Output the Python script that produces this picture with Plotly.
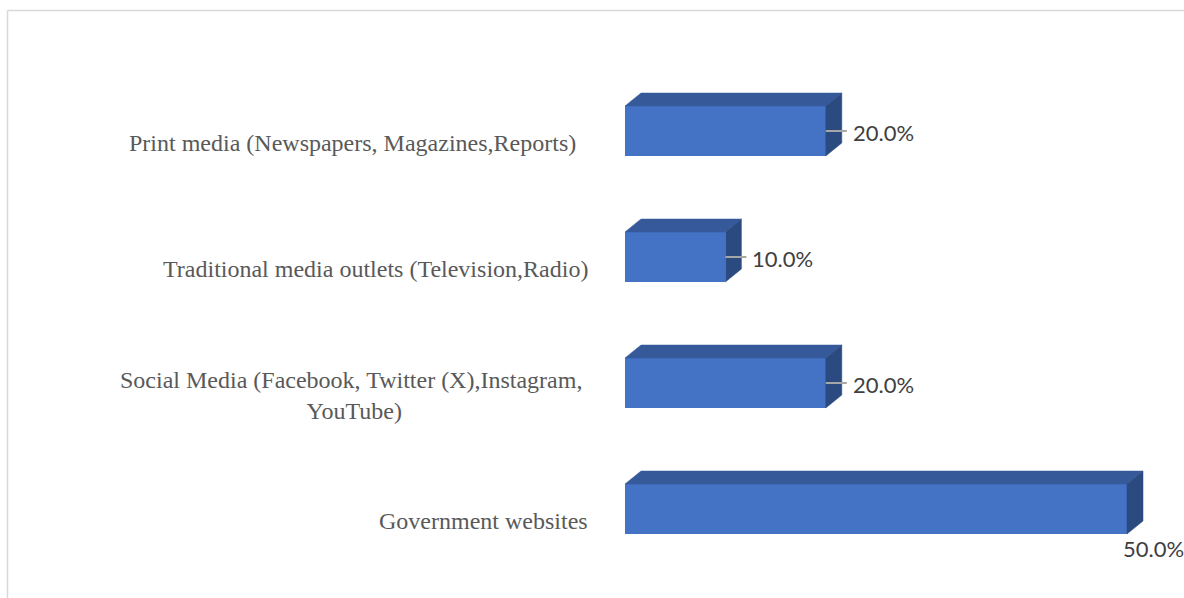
import plotly.graph_objects as go

categories = [
    "Government websites",
    "Social Media (Facebook, Twitter (X),Instagram,&nbsp;<br>YouTube)",
    "Traditional media outlets (Television,Radio)",
    "Print media (Newspapers, Magazines,Reports)&nbsp;&nbsp;",
]
values = [50.0, 20.0, 10.0, 20.0]
value_labels = ["50.0%", "20.0%", "10.0%", "20.0%"]

W, H = 1184, 598
PX_PER_X = 10.04      # pixels per percentage point
PX_PER_Y = 126.0      # pixels per category
X0_PX = 625           # pixel of value 0
TOP_CAT_PX = 131      # pixel of top category centre

n = len(categories)
ymax = (n - 1) + TOP_CAT_PX / PX_PER_Y
ymin = ymax - H / PX_PER_Y
xmin = -X0_PX / PX_PER_X
xmax = xmin + W / PX_PER_X

bar_h = 50 / PX_PER_Y
dx = 16 / PX_PER_X
dy = 13 / PX_PER_Y

FRONT = "#4472C4"
TOP = "#36599A"
SIDE = "#2B4A80"

fig = go.Figure()
ypos = list(range(n))

# top and side faces
for i, v in enumerate(values):
    y = ypos[i]
    yt = y + bar_h / 2
    yb = y - bar_h / 2
    fig.add_trace(go.Scatter(
        x=[0, v, v + dx, dx, 0], y=[yt, yt, yt + dy, yt + dy, yt],
        fill="toself", fillcolor=TOP, mode="lines",
        line=dict(color=TOP, width=0.5), hoverinfo="skip", showlegend=False))
    fig.add_trace(go.Scatter(
        x=[v, v + dx, v + dx, v, v], y=[yb, yb + dy, yt + dy, yt, yb],
        fill="toself", fillcolor=SIDE, mode="lines",
        line=dict(color=SIDE, width=0.5), hoverinfo="skip", showlegend=False))

# front faces
fig.add_trace(go.Bar(
    x=values, y=ypos, orientation="h", width=bar_h, base=0,
    marker=dict(color=FRONT, line=dict(width=0)),
    hoverinfo="skip", showlegend=False))

vmax = max(values)
annotations = []
for i, v in enumerate(values):
    y = ypos[i]
    annotations.append(dict(
        x=0, y=y, xref="x", yref="y", text=categories[i],
        xanchor="right", yanchor="middle", align="center",
        xshift=-35, yshift=-12, showarrow=False,
        font=dict(family="Liberation Serif", size=24, color="#595959")))
    if v == vmax:
        annotations.append(dict(
            x=v, y=y, xref="x", yref="y", text=value_labels[i],
            xanchor="left", yanchor="middle", xshift=-6, yshift=-39,
            showarrow=False,
            font=dict(family="Lato", size=22, color="#404040")))
    else:
        fig.add_trace(go.Scatter(
            x=[v, v + 21 / PX_PER_X], y=[y, y], mode="lines",
            line=dict(color="#A6A6A6", width=2), hoverinfo="skip",
            showlegend=False))
        annotations.append(dict(
            x=v, y=y, xref="x", yref="y", text=value_labels[i],
            xanchor="left", yanchor="middle", xshift=25, yshift=-1,
            showarrow=False,
            font=dict(family="Lato", size=22, color="#404040")))

fig.update_layout(
    width=W, height=H,
    margin=dict(l=0, r=0, t=0, b=0),
    paper_bgcolor="white", plot_bgcolor="white",
    xaxis=dict(range=[xmin, xmax], visible=False, fixedrange=True),
    yaxis=dict(range=[ymin, ymax], visible=False, fixedrange=True),
    annotations=annotations,
    shapes=[
        dict(type="line", xref="paper", yref="paper",
             x0=7.5 / W, x1=1.0, y0=1 - 10.5 / H, y1=1 - 10.5 / H,
             line=dict(color="#D9D9D9", width=1.5)),
        dict(type="line", xref="paper", yref="paper",
             x0=7.5 / W, x1=7.5 / W, y0=0, y1=1 - 10.5 / H,
             line=dict(color="#D9D9D9", width=1.5)),
    ],
    bargap=0,
)

fig.write_html("out.html")
